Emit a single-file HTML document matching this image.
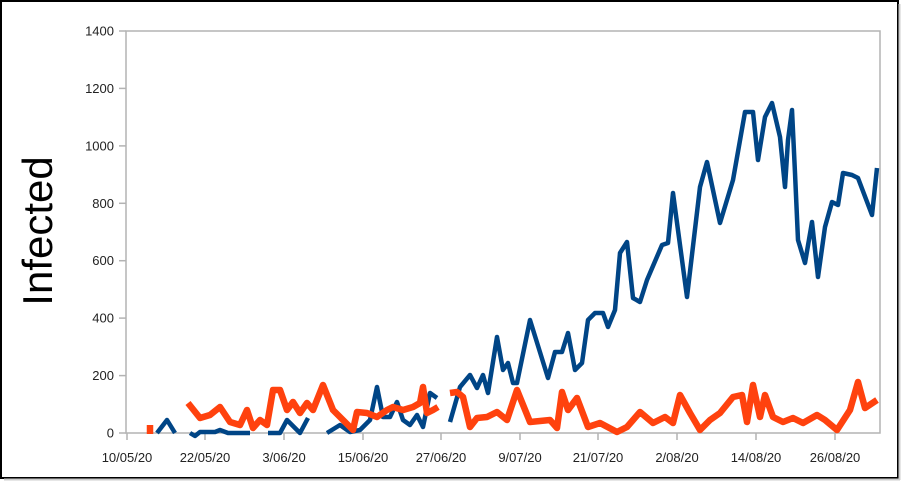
<!DOCTYPE html>
<html><head><meta charset="utf-8"><style>
html,body{margin:0;padding:0;background:#fff;}
svg{display:block;font-family:"Liberation Sans",sans-serif;}
</style></head><body>
<svg width="903" height="481" viewBox="0 0 903 481" xmlns="http://www.w3.org/2000/svg">
<rect x="0" y="0" width="903" height="481" fill="#fff"/>
<rect x="1" y="1" width="897" height="477" fill="none" stroke="#000" stroke-width="2"/>
<line x1="899.5" y1="4" x2="899.5" y2="480" stroke="#ccc" stroke-width="2"/>
<line x1="4" y1="479.5" x2="900" y2="479.5" stroke="#ccc" stroke-width="2"/>
<rect x="126" y="31" width="754" height="402" fill="none" stroke="#b3b3b3" stroke-width="1.5"/>
<g stroke="#b3b3b3" stroke-width="1.5">
<line x1="119" y1="31" x2="126" y2="31"/><line x1="119" y1="88.4" x2="126" y2="88.4"/>
<line x1="119" y1="145.9" x2="126" y2="145.9"/><line x1="119" y1="203.3" x2="126" y2="203.3"/>
<line x1="119" y1="260.7" x2="126" y2="260.7"/><line x1="119" y1="318.1" x2="126" y2="318.1"/>
<line x1="119" y1="375.6" x2="126" y2="375.6"/><line x1="119" y1="433" x2="126" y2="433"/>
<line x1="127" y1="433" x2="127" y2="440"/><line x1="205" y1="433" x2="205" y2="440"/>
<line x1="284" y1="433" x2="284" y2="440"/><line x1="363" y1="433" x2="363" y2="440"/>
<line x1="441" y1="433" x2="441" y2="440"/><line x1="520" y1="433" x2="520" y2="440"/>
<line x1="598" y1="433" x2="598" y2="440"/><line x1="677" y1="433" x2="677" y2="440"/>
<line x1="756" y1="433" x2="756" y2="440"/><line x1="835" y1="433" x2="835" y2="440"/>
</g>
<g font-size="13" fill="#222" text-anchor="end">
<text x="114" y="35.5">1400</text><text x="114" y="92.9">1200</text><text x="114" y="150.4">1000</text>
<text x="114" y="207.8">800</text><text x="114" y="265.2">600</text><text x="114" y="322.6">400</text>
<text x="114" y="380.1">200</text><text x="114" y="437.5">0</text>
</g>
<g font-size="13" fill="#222" text-anchor="middle">
<text x="127" y="462">10/05/20</text><text x="205" y="462">22/05/20</text><text x="284" y="462">3/06/20</text>
<text x="363" y="462">15/06/20</text><text x="441" y="462">27/06/20</text><text x="520" y="462">9/07/20</text>
<text x="598" y="462">21/07/20</text><text x="677" y="462">2/08/20</text><text x="756" y="462">14/08/20</text>
<text x="835" y="462">26/08/20</text>
</g>
<text transform="translate(52,231) rotate(-90)" font-size="42" text-anchor="middle" fill="#000">Infected</text>
<g fill="none" stroke="#004586" stroke-width="4.5" stroke-linejoin="round">
<polyline points="157,433 167,420 175,433"/>
<polyline points="190,433 195,436 200,432 215,432 220,430 228,433 250,433"/>
<polyline points="268,433 280,433 287,420 295,428 300,433 308,418"/>
<polyline points="327,433 340,425 350,432 360,430 370,420 377,387 383,417 390,417 397,402 403,420 410,425 417,415 423,427 430,393 437,398"/>
<polyline points="450,422 460,387 470,375 477,388 483,375 488,393 497,337 503,370 508,363 513,383 517,383 530,320 548,378 555,352 562,352 568,333 575,370 582,363 588,320 595,313 603,313 608,327 615,310 620,253 627,242 633,298 640,302 647,280 662,245 668,243 673,193 687,297 700,187 707,162 720,223 733,180 745,112 753,112 758,160 765,117 772,103 780,137 785,187 788,140 792,110 795,173 798,240 805,263 812,222 818,277 825,227 832,202 838,205 843,173 852,175 858,178 872,215 877,168"/>
</g>
<g fill="none" stroke="#ff420e" stroke-width="6.5" stroke-linejoin="round">
<line x1="150" y1="425" x2="150" y2="434"/>
<polyline points="188,403 200,418 210,415 220,407 230,422 240,425 247,410 253,428 260,420 267,425 273,390 280,390 287,410 293,402 300,413 307,403 313,410 323,385 333,410 343,420 353,430 357,412 367,413 377,417 387,410 393,407 403,410 413,407 420,403 423,387 427,413 433,410 438,407"/>
<polyline points="450,393 457,392 463,397 470,427 477,418 487,417 497,412 507,420 517,390 530,422 550,420 557,428 562,392 568,410 577,398 588,427 600,423 617,432 627,427 640,412 653,423 665,417 673,423 680,395 690,413 700,430 710,420 720,413 733,397 742,395 747,422 753,385 760,417 765,395 773,417 783,422 793,418 803,423 817,415 825,420 837,430 850,410 858,382 865,408 877,400"/>
</g>
</svg>
</body></html>
